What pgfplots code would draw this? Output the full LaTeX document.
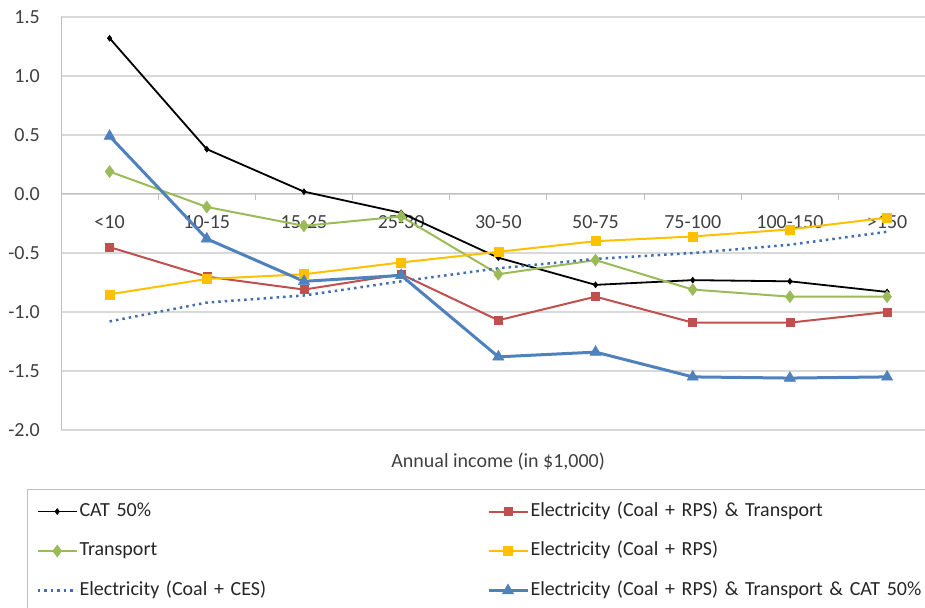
\documentclass[border=0pt]{standalone}
\usepackage{pgfplots}
\pgfplotsset{compat=1.18}
\usepackage{fontspec}
\setmainfont{Carlito}

\definecolor{clrRed}{HTML}{C0504D}
\definecolor{clrGreen}{HTML}{9BBB59}
\definecolor{clrYellow}{HTML}{FFC000}
\definecolor{clrBlue}{HTML}{4F81BD}
\definecolor{clrDot}{HTML}{3F6FAE}
\definecolor{clrGrid}{HTML}{D9D9D9}
\definecolor{clrAxis}{HTML}{BFBFBF}
\definecolor{clrText}{HTML}{404040}

\begin{document}
\fontsize{20}{24}\selectfont
\begin{tikzpicture}
    % 1 px of the reference = 1 pt, axis origin at px (61,430)
    \useasboundingbox (-61pt,-177pt) rectangle (864pt,430pt);
    \begin{axis}[
        at={(0pt,0pt)}, anchor=south west,
        scale only axis, width=864pt, height=413pt,
        xmin=-0.5, xmax=8.39, ymin=-2, ymax=1.5,
        axis x line*=middle, axis y line*=left,
        hide obscured x ticks=false, hide obscured y ticks=false,
        axis line style={clrAxis, line width=1pt},
        xtick={0,...,8},
        xticklabels={<10, 10-15, 15-25, 25-30, 30-50, 50-75, 75-100, 100-150, >150},
        minor xtick={0.5,1.5,...,7.5},
        major tick length=0pt, minor tick length=6pt,
        tick align=outside,
        minor x tick style={clrAxis, line width=1pt},
        ytick={-2,-1.5,...,1.5},
        ytick style={draw=none},
        ymajorgrids,
        grid style={clrGrid, line width=1.2pt},
        /pgf/number format/assume math mode=true,
        yticklabel={\pgfmathprintnumber[fixed, fixed zerofill, precision=1]{\tick}},
        tick label style={text=clrText},
        yticklabel style={inner sep=0pt, anchor=east, xshift=-21pt},
        xticklabel style={inner sep=0pt, anchor=north, yshift=-21pt},
        xlabel={Annual income (in \$1,000)},
        xlabel style={at={(axis description cs:0.506,0)}, anchor=center, yshift=-32pt, text=clrText},
        legend columns=2,
        legend image code/.code={
            \draw[mark repeat=2, mark phase=2, #1] plot coordinates {(0pt,0pt) (19.5pt,0pt) (39pt,0pt)};
        },
        legend style={
            at={(axis description cs:-0.03935,-0.14286)}, anchor=north west,
            draw=clrAxis, line width=1pt,
            inner xsep=9pt, inner ysep=12.5pt,
            row sep=20.5pt, column sep=0pt,
            nodes={inner xsep=1.5pt, inner ysep=0pt, text width=406pt, align=left,
                   text height=14pt, text depth=5pt, text=black!85},
        },
        legend cell align=left,
    ]
    % CAT 50%
    \addplot[black, line width=1.8pt, mark=diamond*, mark size=3pt, mark options={solid, line width=0.5pt}]
        coordinates {(0,1.32) (1,0.38) (2,0.02) (3,-0.16) (4,-0.54) (5,-0.77) (6,-0.73) (7,-0.74) (8,-0.83)};
    % Electricity (Coal + RPS) & Transport
    \addplot[clrRed, line width=2pt, mark=square*, mark size=4pt, mark options={solid, line width=0.5pt}]
        coordinates {(0,-0.45) (1,-0.70) (2,-0.81) (3,-0.68) (4,-1.07) (5,-0.87) (6,-1.09) (7,-1.09) (8,-1.00)};
    % Transport
    \addplot[clrGreen, line width=2pt, mark=diamond*, mark size=6pt, mark options={solid, line width=0.5pt}]
        coordinates {(0,0.19) (1,-0.11) (2,-0.27) (3,-0.19) (4,-0.68) (5,-0.56) (6,-0.81) (7,-0.87) (8,-0.87)};
    % Electricity (Coal + RPS)
    \addplot[clrYellow, line width=2pt, mark=square*, mark size=4.5pt, mark options={solid, line width=0.5pt}]
        coordinates {(0,-0.85) (1,-0.72) (2,-0.68) (3,-0.58) (4,-0.49) (5,-0.40) (6,-0.36) (7,-0.30) (8,-0.20)};
    % Electricity (Coal + CES)
    \addplot[clrDot, line width=2.5pt, dash pattern=on 2.5pt off 4pt, no marks]
        coordinates {(0,-1.08) (1,-0.92) (2,-0.86) (3,-0.74) (4,-0.63) (5,-0.55) (6,-0.50) (7,-0.43) (8,-0.32)};
    % Electricity (Coal + RPS) & Transport & CAT 50%
    \addplot[clrBlue, line width=3pt, mark=triangle*, mark size=6.5pt, mark options={solid, line width=0.5pt}]
        coordinates {(0,0.49) (1,-0.38) (2,-0.74) (3,-0.69) (4,-1.38) (5,-1.34) (6,-1.55) (7,-1.56) (8,-1.55)};

    \legend{CAT 50\%, Electricity (Coal + RPS) \& Transport, Transport, Electricity (Coal + RPS),
            Electricity (Coal + CES), Electricity (Coal + RPS) \& Transport \& CAT 50\%}
    \end{axis}
\end{tikzpicture}
\end{document}
